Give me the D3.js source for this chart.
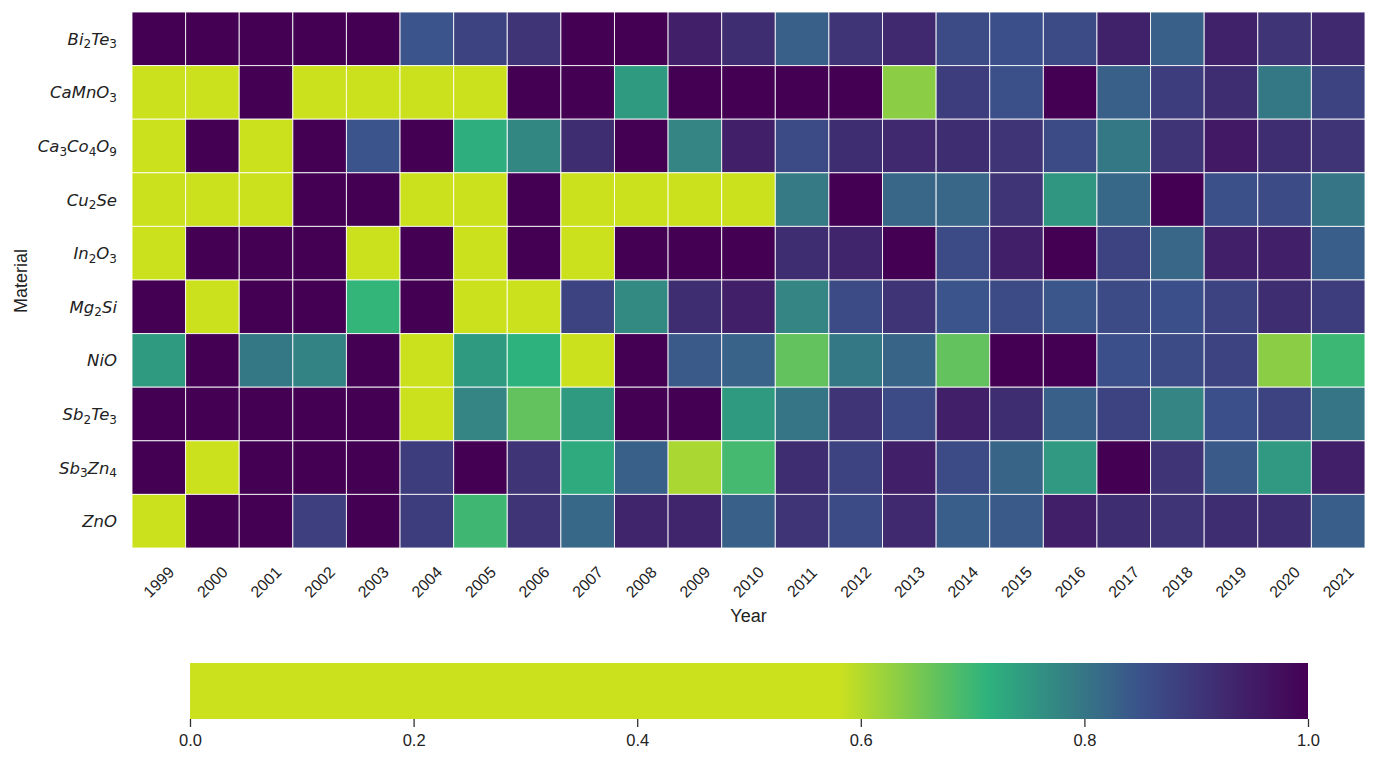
<!DOCTYPE html>
<html lang="en">
<head>
    <meta charset="UTF-8">
    <title>Material heatmap</title>
    <script src="https://d3js.org/d3.v7.min.js"></script>
    <style>
        body {
            margin: 0;
            padding: 0;
            background: #fff;
        }
        svg {
            display: block;
        }
        .tick-label {
            font-family: "Liberation Sans", Arial, sans-serif;
            font-size: 16px;
            fill: #222;
        }
        .mat-label {
            font-family: "DejaVu Sans", sans-serif;
            font-style: italic;
            font-size: 16.5px;
            fill: #222;
        }
        .axis-title {
            font-family: "Liberation Sans", Arial, sans-serif;
            font-size: 18px;
            fill: #222;
        }
        .cbar-axis text {
            font-family: "Liberation Sans", Arial, sans-serif;
            font-size: 16.5px;
            fill: #222;
        }
    </style>
</head>
<body>
    <svg width="1377" height="762"></svg>

    <script>
        const years = ["1999", "2000", "2001", "2002", "2003", "2004", "2005", "2006",
            "2007", "2008", "2009", "2010", "2011", "2012", "2013", "2014", "2015",
            "2016", "2017", "2018", "2019", "2020", "2021"];

        const materials = ["Bi2Te3", "CaMnO3", "Ca3Co4O9", "Cu2Se", "In2O3",
            "Mg2Si", "NiO", "Sb2Te3", "Sb3Zn4", "ZnO"];

        // one row per material, one value per year (yellow cells read as 0)
        const values = [
            [1, 1, 1, 1, 1, 0.847, 0.878, 0.906, 1, 1, 0.943, 0.918, 0.83, 0.906, 0.926, 0.865, 0.854, 0.865, 0.939, 0.83, 0.939, 0.906, 0.926],
            [0, 0, 1, 0, 0, 0, 0, 1, 1, 0.747, 1, 1, 1, 1, 0.634, 0.89, 0.856, 1, 0.83, 0.89, 0.918, 0.796, 0.878],
            [0, 1, 0, 1, 0.847, 1, 0.718, 0.775, 0.918, 1, 0.777, 0.943, 0.865, 0.918, 0.926, 0.918, 0.906, 0.865, 0.796, 0.906, 0.955, 0.918, 0.906],
            [0, 0, 0, 1, 1, 0, 0, 1, 0, 0, 0, 0, 0.793, 1, 0.82, 0.82, 0.906, 0.753, 0.819, 1, 0.856, 0.865, 0.80],
            [0, 1, 1, 1, 0, 1, 0, 1, 0, 1, 1, 1, 0.918, 0.935, 1, 0.865, 0.943, 1, 0.878, 0.82, 0.943, 0.943, 0.833],
            [1, 0, 1, 1, 0.708, 1, 0, 0, 0.878, 0.77, 0.918, 0.943, 0.777, 0.865, 0.906, 0.847, 0.865, 0.844, 0.865, 0.854, 0.878, 0.918, 0.89],
            [0.747, 1, 0.796, 0.78, 1, 0, 0.747, 0.713, 0, 1, 0.839, 0.826, 0.668, 0.796, 0.824, 0.668, 1, 1, 0.854, 0.865, 0.878, 0.634, 0.70],
            [1, 1, 1, 1, 1, 0, 0.777, 0.668, 0.747, 1, 1, 0.747, 0.80, 0.906, 0.865, 0.943, 0.918, 0.83, 0.878, 0.777, 0.854, 0.878, 0.80],
            [1, 0, 1, 1, 1, 0.89, 1, 0.906, 0.724, 0.83, 0.608, 0.693, 0.918, 0.878, 0.943, 0.865, 0.824, 0.749, 1, 0.906, 0.839, 0.749, 0.943],
            [0, 1, 1, 0.885, 1, 0.89, 0.698, 0.906, 0.819, 0.935, 0.935, 0.83, 0.906, 0.865, 0.926, 0.833, 0.839, 0.943, 0.918, 0.906, 0.918, 0.918, 0.833]
        ];

        const cbarTicks = [0, 0.2, 0.4, 0.6, 0.8, 1.0];

        const svg = d3.select("svg");

        // flat yellow up to ~0.58, then straight rgb blends yellow > green > blue > purple
        const color = d3.scaleLinear()
            .domain([0.58, 0.713, 0.85, 1])
            .range(["#cce11e", "#2db27d", "#3b528b", "#440154"])
            .interpolate(d3.interpolateRgb)
            .clamp(true);

        const x = d3.scaleBand()
            .domain(years)
            .range([132, 1365]);

        const y = d3.scaleBand()
            .domain(materials)
            .range([12, 548]);

        const cells = [];
        materials.forEach((m, i) => {
            years.forEach((yr, j) => {
                cells.push({ material: m, year: yr, value: values[i][j] });
            });
        });

        svg.append("g")
            .selectAll("rect")
            .data(cells)
            .enter()
            .append("rect")
            .attr("x", d => x(d.year))
            .attr("y", d => y(d.material))
            .attr("width", x.bandwidth())
            .attr("height", y.bandwidth())
            .attr("fill", d => color(d.value))
            .attr("stroke", "#fff")
            .attr("stroke-opacity", 0.85)
            .attr("stroke-width", 1);

        // material labels, digits as subscripts
        const matLabels = svg.append("g")
            .selectAll("text")
            .data(materials)
            .enter()
            .append("text")
            .attr("class", "mat-label")
            .attr("text-anchor", "end")
            .attr("x", 117)
            .attr("y", d => y(d) + y.bandwidth() / 2 + 6);

        matLabels.each(function (d) {
            const t = d3.select(this);
            const parts = d.match(/[A-Za-z]+|\d+/g);
            let sub = false;
            parts.forEach(p => {
                const isNum = /\d/.test(p);
                const ts = t.append("tspan").text(p);
                if (isNum) {
                    ts.style("font-size", "12px").style("font-style", "normal");
                    if (!sub) ts.attr("dy", 3.5);
                    sub = true;
                } else if (sub) {
                    ts.attr("dy", -3.5);
                    sub = false;
                }
            });
        });

        // year labels rotated 45 degrees
        svg.append("g")
            .selectAll("text")
            .data(years)
            .enter()
            .append("text")
            .attr("class", "tick-label")
            .attr("text-anchor", "middle")
            .attr("dominant-baseline", "central")
            .attr("transform", d => `translate(${x(d) + x.bandwidth() / 2},582) rotate(-45)`)
            .text(d => d);

        svg.append("text")
            .attr("class", "axis-title")
            .attr("text-anchor", "middle")
            .attr("x", (132 + 1365) / 2)
            .attr("y", 622)
            .text("Year");

        svg.append("text")
            .attr("class", "axis-title")
            .attr("text-anchor", "middle")
            .attr("transform", "translate(27,281) rotate(-90)")
            .text("Material");

        // colorbar
        const cbX = d3.scaleLinear().domain([0, 1]).range([190, 1308]);
        const grad = svg.append("defs")
            .append("linearGradient")
            .attr("id", "cbar-grad")
            .attr("x1", "0%").attr("x2", "100%")
            .attr("y1", "0%").attr("y2", "0%");

        d3.range(0, 1.0001, 0.005).forEach(v => {
            grad.append("stop")
                .attr("offset", `${v * 100}%`)
                .attr("stop-color", color(v));
        });

        svg.append("rect")
            .attr("x", cbX(0))
            .attr("y", 663)
            .attr("width", cbX(1) - cbX(0))
            .attr("height", 56)
            .attr("fill", "url(#cbar-grad)");

        const cbAxis = svg.append("g")
            .attr("class", "cbar-axis")
            .attr("transform", "translate(0,719)")
            .call(d3.axisBottom(cbX)
                .tickValues(cbarTicks)
                .tickFormat(d3.format(".1f"))
                .tickSize(8)
                .tickPadding(7));

        cbAxis.select(".domain").remove();
        cbAxis.selectAll(".tick line").attr("stroke", "#333").attr("stroke-width", 1.3);
    </script>
</body>
</html>
